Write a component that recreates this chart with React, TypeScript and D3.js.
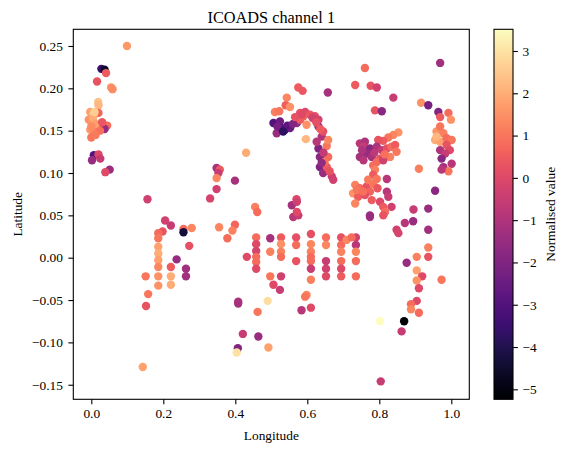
import { useEffect, useRef } from "react";
import * as d3 from "d3";

// [longitude, latitude, normalised value]
const westCoast = [
  [0.099, 0.25, 1.6], [0.028, 0.223, -3.5], [0.037, 0.222, -4.5], [0.041, 0.218, 0.5],
  [0.016, 0.208, 0.3], [0.055, 0.201, 1.5], [0.059, 0.199, 1.4], [0.019, 0.184, 2.4],
  [0.02, 0.18, 2.2], [-0.003, 0.172, 1.8], [0.02, 0.171, 0.7], [0.007, 0.17, 2.7],
  [-0.007, 0.163, 1.5], [0.002, 0.159, 1.6], [-0.003, 0.151, 1.7], [0.007, 0.149, 1.3],
  [0.016, 0.151, 1.2], [0.0, 0.142, 1.0], [0.034, 0.155, 0.5], [0.044, 0.156, 0.8],
  [0.037, 0.152, -1.5], [0.024, 0.15, 0.9], [0.007, 0.121, -3.0], [0.002, 0.115, -1.5],
  [0.02, 0.122, 0], [0.025, 0.117, -0.5], [0.051, 0.104, -1.5], [0.039, 0.101, 0],
  [0.005, 0.165, 2.0], [0.012, 0.158, 1.8], [0.0, 0.155, 1.4], [0.03, 0.16, 0.4],
  [0.012, 0.145, 1.1], [0.009, 0.172, 2.6],
];

const centralRidge = [
  [0.575, 0.201, 0.5], [0.587, 0.197, 0.4], [0.657, 0.195, -1.2], [0.543, 0.189, 1.3],
  [0.54, 0.18, 0.6], [0.552, 0.178, 1.5], [0.51, 0.172, 1.2], [0.522, 0.173, 1.0],
  [0.58, 0.171, 0.2], [0.594, 0.172, 0], [0.607, 0.169, 0.3], [0.621, 0.167, 0.1],
  [0.631, 0.163, -0.2], [0.506, 0.159, -3.0], [0.524, 0.161, -2.5], [0.538, 0.151, -3.5],
  [0.515, 0.147, -1.5], [0.552, 0.153, -2.5], [0.571, 0.159, -1.5], [0.529, 0.153, -3.0],
  [0.598, 0.157, 1.5], [0.58, 0.163, 0.5], [0.589, 0.167, 0.6], [0.596, 0.14, 2.2],
  [0.631, 0.155, -1.5], [0.64, 0.143, -1.0], [0.631, 0.129, -2.0], [0.635, 0.119, -1.8],
  [0.635, 0.107, -2.0], [0.644, 0.1, -1.5], [0.654, 0.132, 1.0], [0.658, 0.119, 0.8],
  [0.654, 0.107, 0.5], [0.668, 0.096, -0.5], [0.672, 0.092, -0.3], [0.658, 0.139, 1.3],
  [0.626, 0.137, -0.8], [0.644, 0.149, 0.2],
  [0.545, 0.156, -2.8], [0.56, 0.158, -2.0], [0.517, 0.155, -2.2], [0.533, 0.149, -3.8],
  [0.566, 0.166, 0.3], [0.585, 0.169, 0.0], [0.615, 0.165, -0.3], [0.625, 0.16, 0.2],
  [0.636, 0.152, 0.5], [0.645, 0.124, -0.6], [0.648, 0.113, 0.9], [0.662, 0.102, 0.3],
  [0.64, 0.112, -1.6],
];

const midWest = [
  [0.43, 0.124, 2.0], [0.348, 0.106, -1.2], [0.357, 0.104, 0.5], [0.353, 0.1, -0.5],
  [0.348, 0.094, 1.3], [0.399, 0.091, -1.2], [0.348, 0.081, -0.3], [0.33, 0.07, -0.2],
  [0.57, 0.069, 0],
];

const northEast = [
  [0.76, 0.224, 0.8], [0.733, 0.204, 0.5], [0.776, 0.203, 0.3], [0.793, 0.201, -0.3],
  [0.839, 0.189, -0.5], [0.788, 0.174, 0.3], [0.807, 0.173, -1.8], [0.969, 0.23, -1.3],
];

const eastCoast = [
  [0.916, 0.183, 1.5], [0.936, 0.18, -2.2], [0.964, 0.172, -2.0], [0.969, 0.166, 0.5],
  [0.992, 0.171, 0.8], [0.999, 0.163, 1.5], [0.959, 0.149, 1.5], [0.978, 0.147, 1.2],
  [0.969, 0.155, 1.0], [0.955, 0.139, 2.0], [0.969, 0.137, 1.8], [0.959, 0.143, 2.2],
  [0.987, 0.141, 0.8], [1.001, 0.139, 1.0], [0.987, 0.133, 0.3], [0.996, 0.127, 0],
  [0.969, 0.127, -1.0], [0.983, 0.123, -0.5], [0.973, 0.117, -1.8], [1.001, 0.111, -0.8],
  [0.978, 0.107, -1.2], [0.992, 0.102, 1.0], [0.973, 0.104, -0.8], [0.91, 0.105, 1.2],
  [0.955, 0.079, -1.8], [0.936, 0.058, -1.5], [0.895, 0.057, -0.5],
];

const eastCentral = [
  [0.853, 0.148, 1.5], [0.839, 0.145, 1.3], [0.825, 0.142, 1.0], [0.811, 0.138, 0.5],
  [0.797, 0.139, 0.3], [0.746, 0.135, -0.8], [0.76, 0.137, -1.0], [0.756, 0.131, -0.5],
  [0.774, 0.129, -1.8], [0.765, 0.123, -1.5], [0.779, 0.119, -1.2], [0.793, 0.131, -1.0],
  [0.807, 0.127, -0.5], [0.821, 0.129, 0.2], [0.834, 0.131, 0.8], [0.844, 0.133, 0.5],
  [0.83, 0.119, 1.2], [0.848, 0.125, 1.0], [0.746, 0.119, -1.2], [0.756, 0.115, -0.8],
  [0.802, 0.117, 0.3], [0.793, 0.113, 0.8], [0.811, 0.115, -0.3], [0.783, 0.109, 0.8],
  [0.788, 0.104, 1.2], [0.783, 0.098, 0.5], [0.793, 0.093, 1.0], [0.821, 0.093, -0.8],
  [0.733, 0.086, 1.2], [0.746, 0.082, 0.8], [0.727, 0.076, 1.5], [0.741, 0.072, 0.5],
  [0.765, 0.084, 0.3], [0.774, 0.078, 0.7], [0.783, 0.087, 1.0], [0.76, 0.074, 0.2],
  [0.779, 0.068, 0.5], [0.733, 0.064, 1.3], [0.821, 0.078, -0.8], [0.825, 0.072, -0.5],
  [0.802, 0.066, 0], [0.811, 0.06, 0.5], [0.834, 0.06, -0.3], [0.816, 0.054, 0.8],
  [0.811, 0.05, 0.3], [0.774, 0.048, -1.2], [0.774, 0.05, -1.5],
  [0.752, 0.127, -1.0], [0.786, 0.124, -0.7], [0.815, 0.122, 0.9], [0.738, 0.08, 1.0],
  [0.755, 0.078, 0.9], [0.795, 0.082, 0.4], [0.769, 0.092, 1.1],
];

const southEast = [
  [0.894, 0.043, -1.5], [0.871, 0.041, -0.8], [0.848, 0.033, -0.3], [0.853, 0.029, -0.2],
  [0.936, 0.033, -1.3], [0.936, 0.012, 1.2], [0.936, 0.001, 0.3], [0.904, 0.001, 1.2],
  [0.876, -0.006, -1.5], [0.904, -0.015, 1.8], [0.919, -0.022, 0], [0.904, -0.027, 1.5],
  [0.973, -0.026, 1.0], [0.91, -0.036, 0], [0.904, -0.051, 0], [0.888, -0.055, 0.8],
  [0.888, -0.061, 1.3], [0.91, -0.065, 0.8], [0.869, -0.075, -5.2], [0.802, -0.075, 3.5],
  [0.862, -0.087, -0.5], [0.804, -0.146, -0.5],
];

const southWest = [
  [0.156, 0.069, -0.3], [0.205, 0.044, -0.3], [0.221, 0.038, -0.5], [0.198, 0.031, 0.3],
  [0.256, 0.034, 0.8], [0.279, 0.035, 1.3], [0.256, 0.03, -4.3], [0.272, 0.014, 0.2],
  [0.237, -0.002, -1.5], [0.263, -0.013, -1.3], [0.263, -0.022, -1.3],
  [0.186, 0.029, 0.8], [0.186, 0.023, 1.0], [0.186, 0.013, 1.8], [0.186, 0.005, 2.0],
  [0.186, -0.003, 1.8], [0.186, -0.011, 1.3], [0.186, -0.022, 1.5], [0.186, -0.033, 1.5],
  [0.221, -0.011, 0.5], [0.221, -0.022, 2.0], [0.221, -0.032, 2.0],
  [0.151, -0.022, 1.0], [0.158, -0.043, 1.0], [0.152, -0.057, 0.3], [0.143, -0.129, 1.8],
];

const centralGrid = [
  [0.455, 0.06, 1.2], [0.461, 0.054, 0.8], [0.355, 0.036, 1.3], [0.399, 0.039, 0.7],
  [0.392, 0.032, 1.2], [0.378, 0.023, 0.8],
  [0.458, 0.024, 0.8], [0.458, 0.016, 0], [0.458, 0.008, -0.2], [0.458, 0.001, 0.8],
  [0.458, -0.005, 0.8], [0.458, -0.013, 0], [0.432, 0.001, 0],
  [0.497, 0.023, -1.2], [0.497, 0.007, 1.2], [0.497, -0.022, 1.0],
  [0.527, 0.024, 0.5], [0.527, 0.016, 1.5], [0.527, 0.007, 1.2], [0.527, 0.001, 0.8],
  [0.527, -0.022, -0.3],
  [0.569, 0.024, 0.2], [0.569, 0.015, 0.8], [0.569, -0.004, 0.3],
  [0.61, 0.028, 0.2], [0.61, 0.016, 1.3], [0.61, 0.007, 1.2], [0.61, 0.001, 0.8],
  [0.61, -0.004, 0.8], [0.61, -0.013, -0.5], [0.61, -0.026, 1.2],
  [0.652, 0.024, 0.8], [0.652, 0.015, 1.3], [0.652, -0.004, -0.5], [0.652, -0.013, -0.3],
  [0.652, -0.022, 0],
  [0.694, 0.024, 0.2], [0.694, 0.015, 0.8], [0.694, 0.007, 1.2], [0.694, -0.004, 0.8],
  [0.694, -0.013, 0], [0.694, -0.022, 0.5],
  [0.735, 0.024, -0.3], [0.735, 0.015, -0.8], [0.735, 0.007, 1.3], [0.735, -0.004, 0.8],
  [0.735, -0.022, 0.8], [0.709, 0.021, 1.3], [0.723, 0.024, 0.8],
  [0.506, -0.032, 0], [0.524, -0.038, -0.5],
  [0.557, 0.062, -1.2], [0.571, 0.066, -0.3], [0.561, 0.048, -0.8], [0.575, 0.05, -0.5],
  [0.571, 0.054, 0],
  [0.598, -0.044, 1.3], [0.594, -0.046, 1.0], [0.61, -0.059, 0], [0.584, -0.062, -0.8],
  [0.408, -0.052, -1.0], [0.408, -0.054, -1.2], [0.462, -0.064, 1.0], [0.49, -0.051, 2.9],
  [0.421, -0.09, -0.5], [0.464, -0.093, -1.5], [0.407, -0.107, -2.0], [0.404, -0.112, 3.0],
  [0.492, -0.106, 1.8],
];

const xTicks = [0, 0.2, 0.4, 0.6, 0.8, 1.0];
const yTicks = [-0.15, -0.1, -0.05, 0, 0.05, 0.1, 0.15, 0.2, 0.25];
const cTicks = [-5, -4, -3, -2, -1, 0, 1, 2, 3];

const FONT = '"Liberation Serif", "Times New Roman", serif';
const W = 567;
const H = 451;

function App() {
  const svgRef = useRef(null);

  useEffect(() => {
    const svg = d3.select(svgRef.current);
    svg.selectAll("*").remove();

    const plot = { left: 73.3, right: 469.3, top: 29.3, bottom: 399.3 };
    const bar = { left: 494, right: 513 };

    const xScale = d3.scaleLinear().domain([-0.05, 1.05]).range([plot.left, plot.right]);
    const yScale = d3.scaleLinear().domain([-0.1672, 0.2697]).range([plot.bottom, plot.top]);
    const cScale = d3.scaleLinear().domain([-5.236, 3.513]).range([plot.bottom, plot.top]);
    const colour = d3.scaleSequential(d3.interpolateMagma).domain([-5.236, 3.513]);

    const points = [
      ...westCoast, ...centralRidge, ...midWest, ...northEast, ...eastCoast,
      ...eastCentral, ...southEast, ...southWest, ...centralGrid,
    ];

    // scatter
    svg.append("g")
      .selectAll("circle")
      .data(points)
      .enter()
      .append("circle")
      .attr("cx", d => xScale(d[0]))
      .attr("cy", d => yScale(d[1]))
      .attr("r", 4.2)
      .attr("fill", d => colour(d[2]));

    const styleAxis = g => {
      g.select(".domain").remove();
      g.selectAll("line").attr("stroke", "#000").attr("stroke-width", 1.1);
      g.selectAll("text")
        .attr("fill", "#000")
        .style("font-family", FONT)
        .style("font-size", "13.4px");
    };

    // x axis
    svg.append("g")
      .attr("transform", `translate(0, ${plot.bottom})`)
      .call(d3.axisBottom(xScale).tickValues(xTicks).tickFormat(d3.format(".1f"))
        .tickSize(4.9).tickPadding(4.5))
      .call(styleAxis);

    // y axis
    svg.append("g")
      .attr("transform", `translate(${plot.left}, 0)`)
      .call(d3.axisLeft(yScale).tickValues(yTicks).tickFormat(d3.format(".2f"))
        .tickSize(4.9).tickPadding(5.5))
      .call(styleAxis);

    // frame
    svg.append("rect")
      .attr("x", plot.left).attr("y", plot.top)
      .attr("width", plot.right - plot.left).attr("height", plot.bottom - plot.top)
      .attr("fill", "none").attr("stroke", "#000").attr("stroke-width", 1.1);

    // colour bar
    const grad = svg.append("defs").append("linearGradient")
      .attr("id", "magma").attr("x1", 0).attr("y1", 1).attr("x2", 0).attr("y2", 0);
    d3.range(0, 1.0001, 0.02).forEach(t => {
      grad.append("stop").attr("offset", t).attr("stop-color", d3.interpolateMagma(t));
    });
    svg.append("rect")
      .attr("x", bar.left).attr("y", plot.top)
      .attr("width", bar.right - bar.left).attr("height", plot.bottom - plot.top)
      .attr("fill", "url(#magma)").attr("stroke", "#000").attr("stroke-width", 1.1);

    svg.append("g")
      .attr("transform", `translate(${bar.right}, 0)`)
      .call(d3.axisRight(cScale).tickValues(cTicks).tickFormat(d3.format("d"))
        .tickSize(4.9).tickPadding(4.5))
      .call(styleAxis);

    // titles
    const label = (x, y, txt, size, rot) => svg.append("text")
      .attr("transform", `translate(${x}, ${y})${rot ? " rotate(-90)" : ""}`)
      .attr("text-anchor", "middle")
      .style("font-family", FONT)
      .style("font-size", size)
      .text(txt);

    label((plot.left + plot.right) / 2, 22.5, "ICOADS channel 1", "16.3px", false);
    label((plot.left + plot.right) / 2, 439.5, "Longitude", "13.4px", false);
    label(21.7, (plot.top + plot.bottom) / 2, "Latitude", "13.4px", true);
    label(555, (plot.top + plot.bottom) / 2, "Normalised value", "13.4px", true);
  }, []);

  return (
    <svg
      ref={svgRef}
      width={W}
      height={H}
      style={{ position: "absolute", left: 0, top: 0, background: "#fff" }}
    />
  );
}

export default App;
